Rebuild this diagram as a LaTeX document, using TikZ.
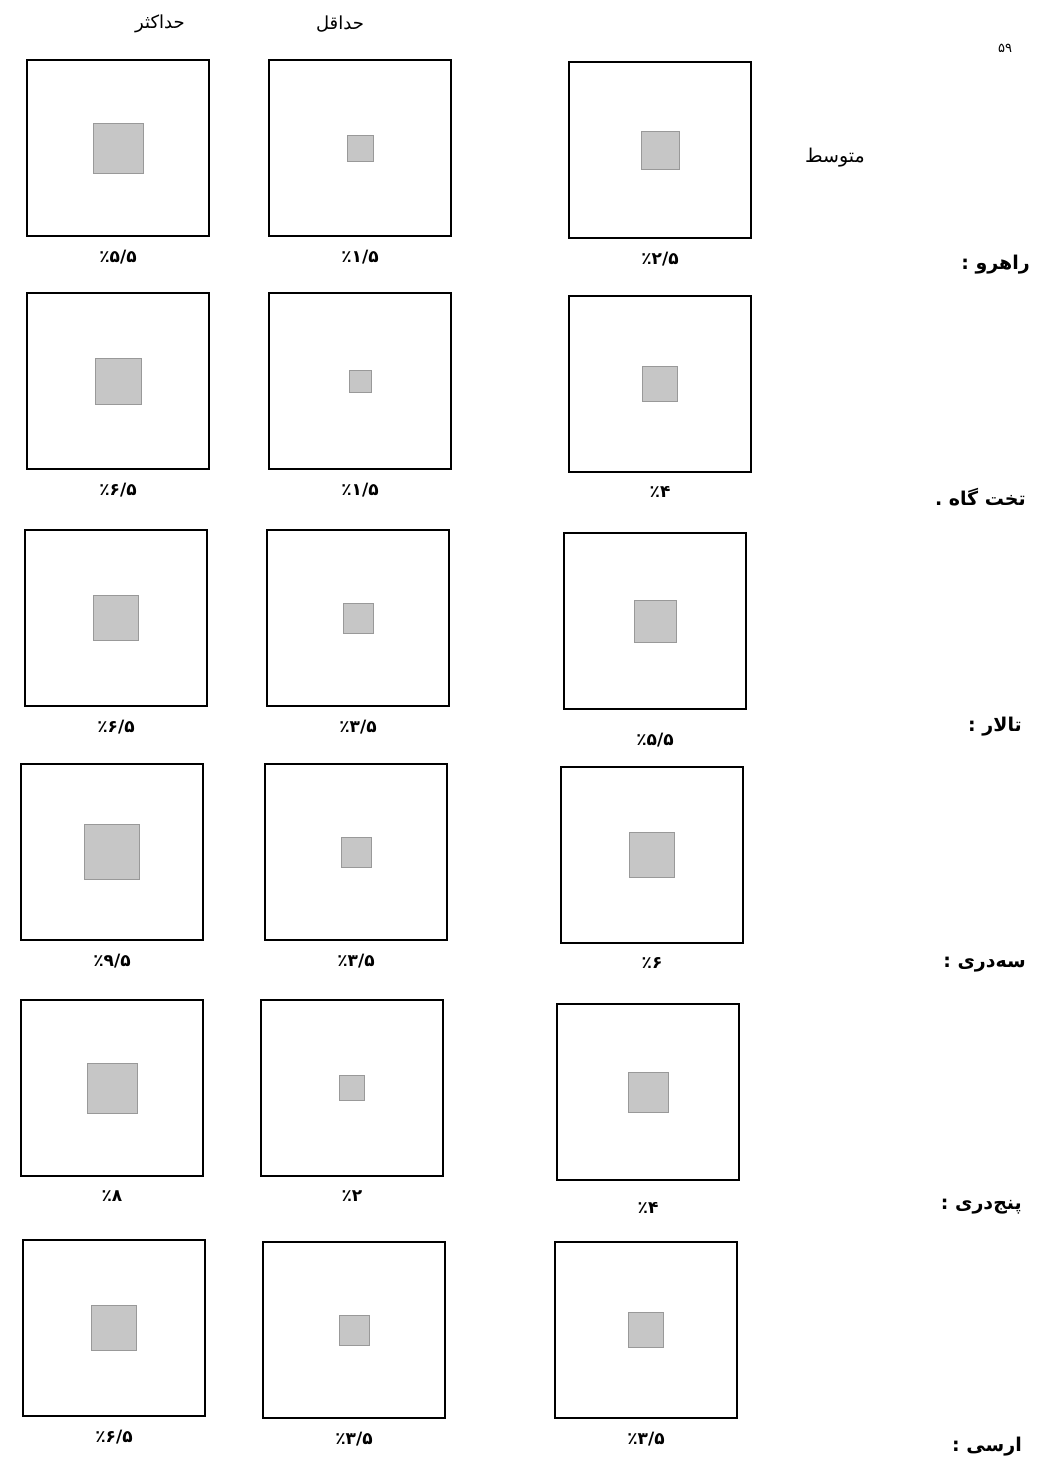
\documentclass[tikz,border=0pt]{standalone}
\usepackage{fontspec}
\newfontfamily\farsi[Script=Arabic]{DejaVu Sans}
\TeXXeTstate=1
\usetikzlibrary{positioning}

\newcommand{\rtl}[1]{\beginR #1\endR}

\tikzset{
  cell/.style={draw, line width=2.2pt, minimum width=182pt, minimum height=176pt, inner sep=0pt},
  core/.style={draw=gray!80, fill=gray!45, line width=1pt, inner sep=0pt},
  pct/.style={font=\farsi\fontsize{17}{20}\selectfont\bfseries, inner sep=1pt},
  room/.style={font=\farsi\fontsize{19}{23}\selectfont\bfseries, anchor=east, inner sep=0pt},
  head/.style={font=\farsi\fontsize{18}{22}\selectfont, inner sep=0pt},
}

\begin{document}
\begin{tikzpicture}[x=1pt, y=-1pt, node distance=12pt]
  \useasboundingbox (0,0) rectangle (1036,1472);

  % column heads
  \node[head] (hmax) at (160,24) {\rtl{حداکثر}};
  \node[head] (hmin) at (340,24) {\rtl{حداقل}};
  \node[head] (page) at (1005,48) {\fontsize{13}{15}\selectfont ۵۹};

  % row 1
  \node[cell] (r1a) at (118,148) {};
  \node[core, minimum size=50pt] at (r1a) {};
  \node[pct, below=of r1a] (p1a) {٪۵/۵};
  \node[cell] (r1b) at (360,148) {};
  \node[core, minimum size=26pt] at (r1b) {};
  \node[pct, below=of r1b] (p1b) {٪۱/۵};
  \node[cell] (r1c) at (660,150) {};
  \node[core, minimum size=38pt] at (r1c) {};
  \node[pct, below=of r1c] (p1c) {٪۲/۵};
  \node[room, anchor=center, font=\farsi\fontsize{19}{23}\selectfont] (avg) at (835,158) {\rtl{متوسط}};
  \node[room] (n1) at (1030,265) {\rtl{راهرو :}};

  % row 2
  \node[cell] (r2a) at (118,381) {};
  \node[core, minimum size=46pt] at (r2a) {};
  \node[pct, below=of r2a] (p2a) {٪۶/۵};
  \node[cell] (r2b) at (360,381) {};
  \node[core, minimum size=22pt] at (r2b) {};
  \node[pct, below=of r2b] (p2b) {٪۱/۵};
  \node[cell] (r2c) at (660,384) {};
  \node[core, minimum size=35pt] at (r2c) {};
  \node[pct, below=of r2c] (p2c) {٪۴};
  \node[room] (n2) at (1026,497) {\rtl{تخت گاه .}};

  % row 3
  \node[cell] (r3a) at (116,618) {};
  \node[core, minimum size=45pt] at (r3a) {};
  \node[pct, below=of r3a] (p3a) {٪۶/۵};
  \node[cell] (r3b) at (358,618) {};
  \node[core, minimum size=30pt] at (r3b) {};
  \node[pct, below=of r3b] (p3b) {٪۳/۵};
  \node[cell] (r3c) at (655,621) {};
  \node[core, minimum size=42pt] at (r3c) {};
  \node[pct, below=22pt of r3c] (p3c) {٪۵/۵};
  \node[room] (n3) at (1022,727) {\rtl{تالار :}};

  % row 4
  \node[cell] (r4a) at (112,852) {};
  \node[core, minimum size=55pt] at (r4a) {};
  \node[pct, below=of r4a] (p4a) {٪۹/۵};
  \node[cell] (r4b) at (356,852) {};
  \node[core, minimum size=30pt] at (r4b) {};
  \node[pct, below=of r4b] (p4b) {٪۳/۵};
  \node[cell] (r4c) at (652,855) {};
  \node[core, minimum size=45pt] at (r4c) {};
  \node[pct, below=of r4c] (p4c) {٪۶};
  \node[room] (n4) at (1026,965) {\rtl{سه‌دری :}};

  % row 5
  \node[cell] (r5a) at (112,1088) {};
  \node[core, minimum size=50pt] at (r5a) {};
  \node[pct, below=of r5a] (p5a) {٪۸};
  \node[cell] (r5b) at (352,1088) {};
  \node[core, minimum size=25pt] at (r5b) {};
  \node[pct, below=of r5b] (p5b) {٪۲};
  \node[cell] (r5c) at (648,1092) {};
  \node[core, minimum size=40pt] at (r5c) {};
  \node[pct, below=20pt of r5c] (p5c) {٪۴};
  \node[room] (n5) at (1022,1207) {\rtl{پنج‌دری :}};

  % row 6
  \node[cell] (r6a) at (114,1328) {};
  \node[core, minimum size=45pt] at (r6a) {};
  \node[pct, below=of r6a] (p6a) {٪۶/۵};
  \node[cell] (r6b) at (354,1330) {};
  \node[core, minimum size=30pt] at (r6b) {};
  \node[pct, below=of r6b] (p6b) {٪۳/۵};
  \node[cell] (r6c) at (646,1330) {};
  \node[core, minimum size=35pt] at (r6c) {};
  \node[pct, below=of r6c] (p6c) {٪۳/۵};
  \node[room] (n6) at (1022,1447) {\rtl{ارسی :}};
\end{tikzpicture}
\end{document}
